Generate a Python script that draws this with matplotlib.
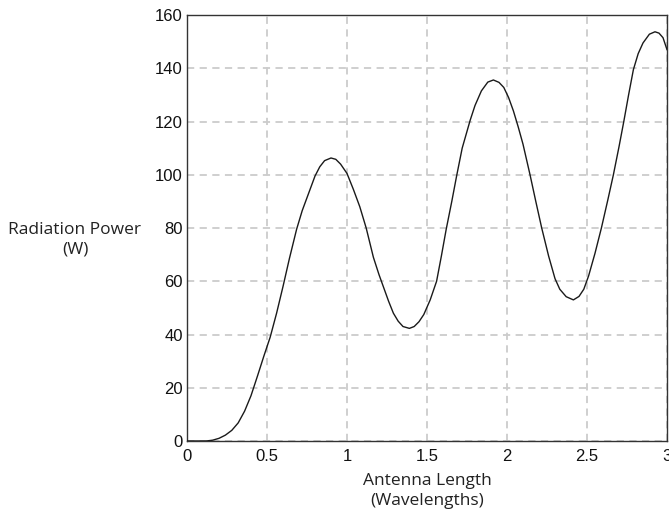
import numpy as np
import matplotlib
matplotlib.use('Agg')
import matplotlib.pyplot as plt

# antenna length (wavelengths) and radiated power (W)
length = [0.0, 0.12, 0.16, 0.2, 0.24, 0.28, 0.32, 0.36, 0.4, 0.44, 0.48,
          0.52, 0.56, 0.6, 0.64, 0.685, 0.72, 0.76, 0.8, 0.83, 0.86, 0.9,
          0.93, 0.96, 1.0, 1.04, 1.08, 1.12, 1.165, 1.2, 1.23, 1.26, 1.29,
          1.32, 1.35, 1.39, 1.42, 1.45, 1.48, 1.52, 1.56, 1.59, 1.62, 1.655,
          1.685, 1.72, 1.77, 1.8, 1.84, 1.88, 1.915, 1.95, 1.98, 2.01, 2.04,
          2.07, 2.1, 2.144, 2.18, 2.217, 2.26, 2.3, 2.33, 2.37, 2.415, 2.45,
          2.48, 2.51, 2.55, 2.59, 2.63, 2.665, 2.7, 2.73, 2.76, 2.79, 2.82,
          2.85, 2.89, 2.925, 2.95, 2.975, 3.0]
power = [0.0, 0.0, 0.3, 1.0, 2.2, 4.0, 6.8, 11.2, 17.0, 24.3, 31.8,
         39.0, 48.0, 58.0, 68.5, 79.5, 86.5, 93.0, 99.5, 103.0, 105.3, 106.3,
         105.8, 104.0, 100.5, 94.5, 88.0, 80.0, 69.0, 62.5, 57.5, 52.5, 48.0,
         45.0, 43.0, 42.3, 43.0, 44.8, 47.5, 53.0, 60.0, 69.5, 79.5, 90.0,
         99.5, 110.0, 120.5, 126.0, 131.5, 134.8, 135.6, 134.7, 132.8, 129.0, 124.0,
         118.0, 111.5, 100.0, 90.0, 80.0, 69.5, 61.0, 57.0, 54.2, 53.0, 54.3,
         57.0, 62.0, 70.5, 80.0, 90.5, 100.0, 110.5, 120.0, 130.0, 139.5, 145.5,
         149.5, 152.8, 153.7, 153.2, 151.5, 147.0]

xticks = [0, 0.5, 1, 1.5, 2, 2.5, 3]
xticklabels = ['0', '0.5', '1', '1.5', '2', '2.5', '3']
yticks = [0, 20, 40, 60, 80, 100, 120, 140, 160]

fig = plt.figure(figsize=(6.69, 5.27), dpi=100)
ax = fig.add_axes([0.2795, 0.1632, 0.997 - 0.2795, 0.9715 - 0.1632])

ax.plot(length, power, color='#1a1a1a', lw=1.0, zorder=3, solid_joinstyle='round')

ax.set_xlim(0, 3)
ax.set_ylim(0, 160)
ax.set_xticks(xticks)
ax.set_xticklabels(xticklabels)
ax.set_yticks(yticks)
ax.grid(True, color='#cccccc', linestyle=(0, (4, 3)), lw=1.3)
ax.tick_params(length=0, labelsize=12, colors='#111111')
ax.tick_params(axis='x', pad=6)
ax.tick_params(axis='y', pad=3)
for lbl in ax.get_xticklabels() + ax.get_yticklabels():
    lbl.set_family('Liberation Sans')
for sp in ax.spines.values():
    sp.set_color('#333333')
    sp.set_linewidth(1.0)

fig.text(75 / 669, 1 - 240 / 527, 'Radiation Power\n(W)', ha='center', va='center',
         family='Open Sans', fontsize=12.5, color='#222222', linespacing=1.3)
fig.text(427 / 669, 1 - 491 / 527, 'Antenna Length\n(Wavelengths)', ha='center', va='center',
         family='Open Sans', fontsize=12.5, color='#222222', linespacing=1.3)

fig.savefig('out.png', dpi=100)
